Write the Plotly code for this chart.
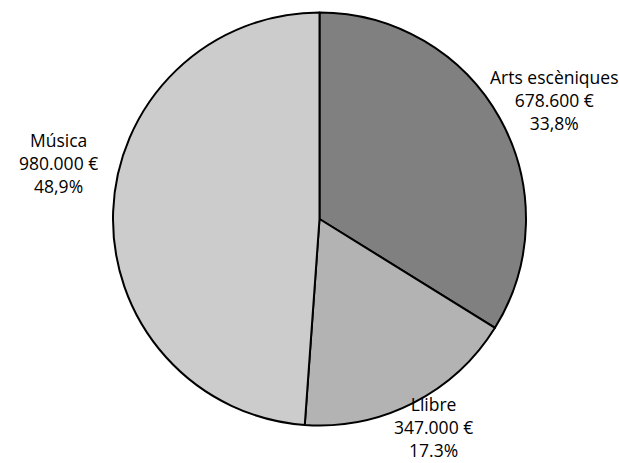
import plotly.graph_objects as go

# Budget by cultural sector
categories = ["Arts escèniques", "Llibre", "Música"]
amounts = [678600, 347000, 980000]
percent_labels = ["33,8%", "17.3%", "48,9%"]
colors = ["#808080", "#b3b3b3", "#cccccc"]

W, H = 619, 463

def euros(v):
    return f"{v:,}".replace(",", ".") + " €"

fig = go.Figure(go.Pie(
    labels=categories,
    values=amounts,
    sort=False,
    direction="clockwise",
    rotation=0,
    textinfo="none",
    hoverinfo="label+value+percent",
    marker=dict(colors=colors, line=dict(color="black", width=2)),
    domain=dict(x=[113 / W, 526 / W], y=[1 - 426 / H, 1 - 12 / H]),
    showlegend=False,
))

# Label block centres (pixels) for each slice
label_pos = [(554, 100), (433, 427), (58, 163)]
font = dict(family="Open Sans, sans-serif", size=17.5, color="black")
for name, amt, pct, (px, py) in zip(categories, amounts, percent_labels, label_pos):
    fig.add_annotation(
        x=px / W, y=1 - py / H, xref="paper", yref="paper",
        text=f"{name}<br>{euros(amt)}<br>{pct}",
        showarrow=False, xanchor="center", yanchor="middle",
        align="center", font=font, borderpad=0,
    )

fig.update_layout(
    width=W, height=H,
    margin=dict(l=0, r=0, t=0, b=0),
    paper_bgcolor="white", plot_bgcolor="white",
)

fig.write_html("out.html")
